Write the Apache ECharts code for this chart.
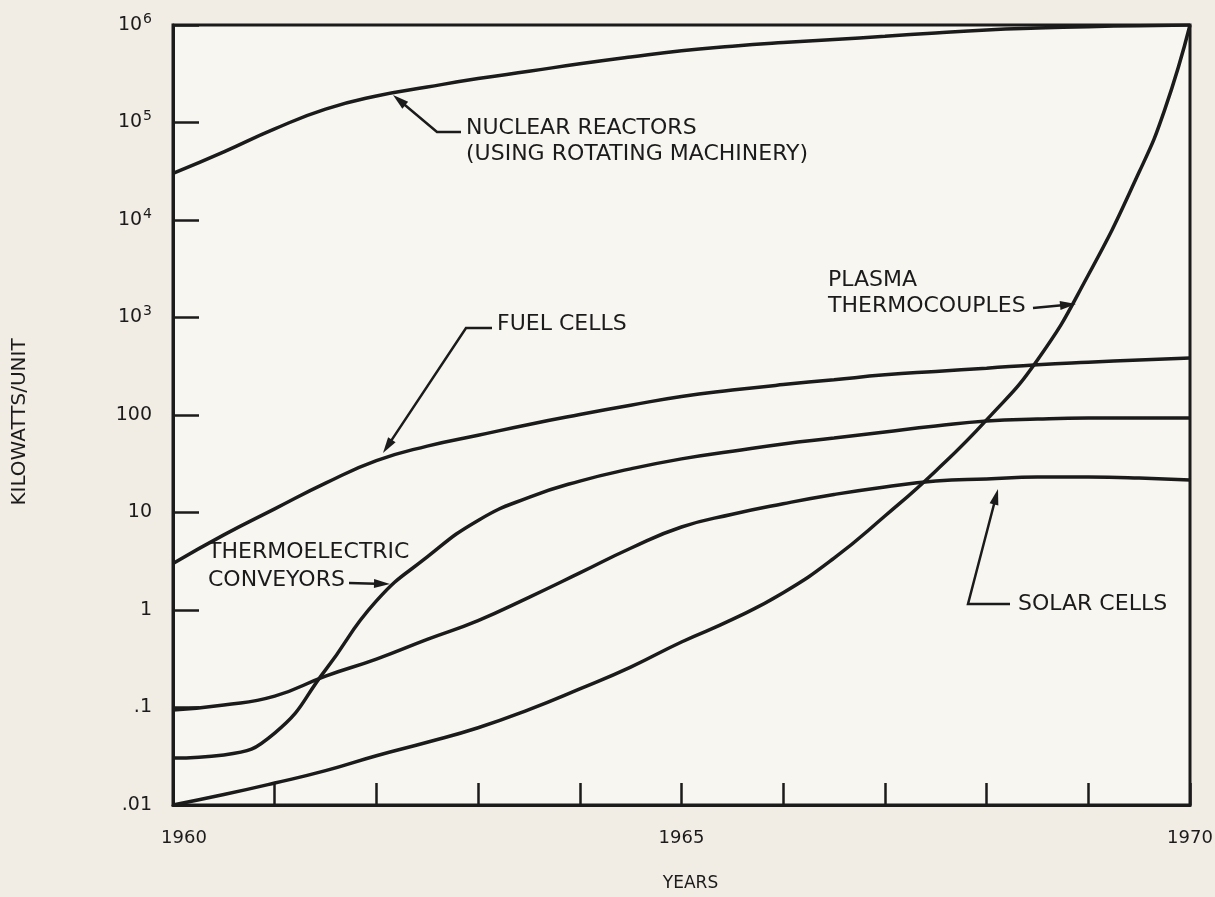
<!DOCTYPE html>
<html>
<head>
<meta charset="utf-8">
<script src="https://cdn.jsdelivr.net/npm/echarts@6/dist/echarts.min.js"></script>
<style>
  html, body { margin: 0; padding: 0; background: #f1ece4; }
  #chart { width: 1215px; height: 897px; }
</style>
</head>
<body>
<div id="chart"></div>
<script>
// ---- data ----
const years = [1960, 1960.5, 1961, 1961.5, 1962, 1962.5, 1963, 1963.5, 1964, 1964.5,
               1965, 1965.5, 1966, 1966.5, 1967, 1967.5, 1968, 1968.5, 1969, 1969.5, 1970];
const nuclearReactors = [30000, 50000, 86000, 137000, 187000, 231000, 282000, 335000, 400000, 470000,
                         545000, 605000, 660000, 712000, 765000, 830000, 890000, 930000, 960000, 985000, 1000000];
const fuelCells = [3.0, 5.9, 10.9, 20, 34, 48, 62, 80, 101, 126,
                   155, 180, 205, 230, 258, 280, 302, 328, 348, 366, 384];
const thermoelectric = [0.0303, 0.0326, 0.0547, 0.243, 1.24, 3.5, 8.3, 14.3, 21, 28,
                        35.5, 42.5, 50.5, 58, 67, 77, 86.7, 91, 93, 93, 93];
const solarCells = [0.094, 0.106, 0.131, 0.21, 0.314, 0.5, 0.78, 1.35, 2.4, 4.3,
                    7.1, 9.6, 12.3, 15.3, 18.3, 21, 22.1, 23.1, 23.1, 22.6, 21.5];
const plasmaYears = [1960, 1960.5, 1961, 1961.5, 1962, 1962.5, 1963, 1963.5, 1964, 1964.5,
                     1965, 1965.5, 1966, 1966.5, 1967, 1967.5, 1968, 1968.5, 1969, 1969.5, 1969.75, 1970];
const plasmaThermocouples = [0.01, 0.0128, 0.0168, 0.0225, 0.032, 0.044, 0.062, 0.095, 0.155, 0.26,
                             0.47, 0.8, 1.5, 3.4, 9.2, 26.7, 89, 367, 2730, 31000, 134000, 1000000];

const yTickLabels = ['.01', '.1', '1', '10', '100', '10{sup|3}', '10{sup|4}', '10{sup|5}', '10{sup|6}'];
const xLabeledYears = [1960, 1965, 1970];

const annotationTexts = {
  nuclear: ['NUCLEAR REACTORS', '(USING ROTATING MACHINERY)'],
  fuel: ['FUEL CELLS'],
  thermo: ['THERMOELECTRIC', 'CONVEYORS'],
  plasma: ['PLASMA', 'THERMOCOUPLES'],
  solar: ['SOLAR CELLS']
};

// ---- styling ----
const INK = '#1b1b1b';
const FONT = '"DejaVu Sans", sans-serif';
const pair = (xs, ys) => xs.map((x, i) => [x, ys[i]]);

function lineSeries(name, xs, ys) {
  return {
    name, type: 'line', data: pair(xs, ys),
    smooth: 0.5, showSymbol: false, symbol: 'none',
    lineStyle: { color: INK, width: 3.5 }, z: 3, silent: true
  };
}

function textEl(str, x, y, size) {
  return { type: 'text', left: x, top: y - size * 0.62, z: 10,
    style: { text: str, fill: INK, font: size + 'px ' + FONT } };
}
function arrowEls(points) {
  const n = points.length;
  const [x1, y1] = points[n - 2], [x2, y2] = points[n - 1];
  const ang = Math.atan2(y2 - y1, x2 - x1);
  const L = 16, W = 4.5;
  const bx = x2 - L * Math.cos(ang), by = y2 - L * Math.sin(ang);
  const px = -Math.sin(ang) * W, py = Math.cos(ang) * W;
  const shaft = points.slice(0, n - 1).concat([[bx + 2 * Math.cos(ang), by + 2 * Math.sin(ang)]]);
  return [
    { type: 'polyline', z: 10, shape: { points: shaft }, style: { stroke: INK, lineWidth: 2.5, fill: null } },
    { type: 'polygon', z: 10, shape: { points: [[x2, y2], [bx + px, by + py], [bx - px, by - py]] }, style: { fill: INK } }
  ];
}

const TS = 22;
const graphics = [].concat(
  textEl(annotationTexts.nuclear[0], 466, 131, TS),
  textEl(annotationTexts.nuclear[1], 466, 157, TS),
  arrowEls([[461, 132], [437, 132], [393, 95]]),
  textEl(annotationTexts.fuel[0], 497, 327, TS),
  arrowEls([[492, 328], [466, 328], [383, 453]]),
  textEl(annotationTexts.thermo[0], 208, 555, TS),
  textEl(annotationTexts.thermo[1], 208, 583, TS),
  arrowEls([[349, 583], [390, 584]]),
  textEl(annotationTexts.plasma[0], 828, 283, TS),
  textEl(annotationTexts.plasma[1], 828, 309, TS),
  arrowEls([[1033, 308], [1076, 304]]),
  textEl(annotationTexts.solar[0], 1018, 607, TS),
  arrowEls([[1010, 604], [968, 604], [998, 489]])
);

const chart = echarts.init(document.getElementById('chart'), null, { renderer: 'canvas' });
chart.setOption({
  backgroundColor: '#f1ece4',
  animation: false,
  textStyle: { fontFamily: FONT, color: INK },
  grid: { left: 173, right: 25, top: 25, bottom: 92, show: true, containLabel: false,
          outerBoundsMode: 'none',
          backgroundColor: '#f8f6f1', borderColor: INK, borderWidth: 3 },
  xAxis: {
    type: 'value', min: 1960, max: 1970, interval: 1,
    name: 'YEARS', nameLocation: 'middle', nameGap: 70,
    nameTextStyle: { fontSize: 17, color: INK, fontFamily: FONT, padding: [0, 0, 0, 18] },
    axisLine: { lineStyle: { color: INK, width: 3 } },
    axisTick: { inside: true, length: 22, lineStyle: { color: INK, width: 2.5 } },
    axisLabel: { margin: 24, fontSize: 18, color: INK, fontFamily: FONT,
      formatter: v => {
        const y = Math.round(v);
        if (!xLabeledYears.includes(y)) return '';
        return y === xLabeledYears[0] ? '{first|' + y + '}' : String(y);
      },
      rich: { first: { fontSize: 18, fontFamily: FONT, color: INK, padding: [0, 0, 0, 22] } },
      showMinLabel: true, showMaxLabel: true },
    splitLine: { show: false }
  },
  yAxis: {
    type: 'log', logBase: 10, min: 0.01, max: 1000000, splitNumber: 8,
    name: 'KILOWATTS/UNIT', nameLocation: 'middle', nameGap: 143, nameRotate: 90,
    nameTextStyle: { fontSize: 20, color: INK, fontFamily: FONT, padding: [0, 14, 0, 0] },
    axisLine: { lineStyle: { color: INK, width: 3 } },
    axisTick: { inside: true, length: 26, lineStyle: { color: INK, width: 2.5 } },
    axisLabel: {
      margin: 21, fontSize: 19, color: INK, fontFamily: FONT,
      formatter: v => {
        const i = Math.round(Math.log10(v)) + 2;
        return yTickLabels[i] !== undefined ? yTickLabels[i] : '';
      },
      rich: { sup: { fontSize: 14, fontFamily: FONT, color: INK, padding: [0, 0, 12, 1] } }
    },
    splitLine: { show: false }
  },
  series: [
    lineSeries('Nuclear reactors', years, nuclearReactors),
    lineSeries('Fuel cells', years, fuelCells),
    lineSeries('Thermoelectric conveyors', years, thermoelectric),
    lineSeries('Solar cells', years, solarCells),
    lineSeries('Plasma thermocouples', plasmaYears, plasmaThermocouples)
  ],
  graphic: graphics
});
</script>
</body>
</html>
